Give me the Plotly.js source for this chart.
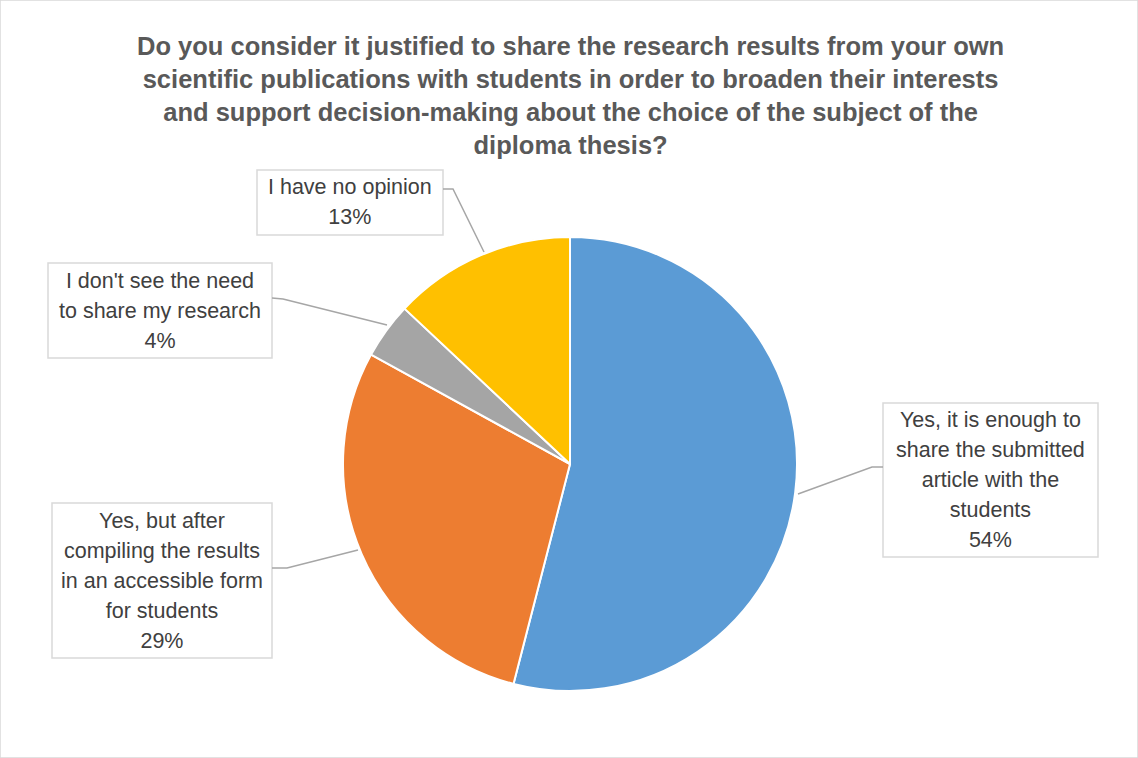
<!DOCTYPE html>
<html><head><meta charset="utf-8">
<script src="https://cdn.plot.ly/plotly-3.0.1.min.js"></script>
<style>html,body{margin:0;padding:0;background:#fff}</style>
</head><body>
<div id="chart" style="width:1138px;height:758px"></div>
<script>
// Data
const categories = [
  "Yes, it is enough to share the submitted article with the students",
  "Yes, but after compiling the results in an accessible form for students",
  "I don't see the need to share my research",
  "I have no opinion"
];
const values = [54, 29, 4, 13];
const labelLines = [
  ["Yes, it is enough to", "share the submitted", "article with the", "students"],
  ["Yes, but after", "compiling the results", "in an accessible form", "for students"],
  ["I don't see the need", "to share my research"],
  ["I have no opinion"]
];
const colors = ["#5B9BD5", "#ED7D31", "#A5A5A5", "#FFC000"];

const W = 1138, H = 758;
const px = (x) => x / W;
const py = (y) => 1 - y / H;

// label box layout (pixels): [left, top, right, bottom]
const boxes = [
  [883, 403, 1098, 557],
  [52, 503, 272, 658],
  [48, 263, 272, 358],
  [257, 170, 443, 235]
];
const leaders = [
  [[883,467],[872,467],[798,494]],
  [[272,568],[287,568],[358,550]],
  [[272,298],[283,299],[387,325]],
  [[443,189],[453,189],[484,252]]
];

const total = values.reduce((a,b)=>a+b,0);
const shapes = [];
const annotations = [];
const F = "'Liberation Sans Narrow', 'Arial Narrow', sans-serif";

boxes.forEach((b,i) => {
  shapes.push({type:'rect', xref:'paper', yref:'paper',
    x0:px(b[0]), x1:px(b[2]), y0:py(b[3]), y1:py(b[1]),
    line:{color:'#D9D9D9', width:1.5}, fillcolor:'#ffffff', layer:'above'});
  const pts = leaders[i];
  let path = 'M ' + pts.map(p => px(p[0]) + ',' + py(p[1])).join(' L ');
  shapes.push({type:'path', xref:'paper', yref:'paper', path:path,
    line:{color:'#A6A6A6', width:1.5}, layer:'above'});
  const pct = Math.round(values[i] / total * 100) + '%';
  const txt = labelLines[i].concat([pct])
    .map(s => '<span style="font-size:21.5px">' + s + '</span>').join('<br>');
  annotations.push({xref:'paper', yref:'paper',
    x:px((b[0]+b[2])/2), y:py((b[1]+b[3])/2), xanchor:'center', yanchor:'middle',
    text:txt, showarrow:false, align:'center',
    font:{family:F, size:23, color:'#404040'}});
});

const titleLines = [
  "Do you consider it justified to share the research results from your own",
  "scientific publications with students in order to broaden their interests",
  "and support decision-making about the choice of the subject of the",
  "diploma thesis?"
];
annotations.push({xref:'paper', yref:'paper', x:px(570), y:py(95), xanchor:'center', yanchor:'middle',
  text: titleLines.map(s => '<span style="font-size:25.5px"><b>' + s + '</b></span>').join('<br>'),
  showarrow:false, align:'center', font:{family:F, size:25.5, color:'#595959'}});

shapes.push({type:'rect', xref:'paper', yref:'paper', x0:0, x1:1, y0:0, y1:1,
  line:{color:'#D9D9D9', width:1.5}, layer:'below'});

const cx = 570, cy = 464, r = 227;
const trace = {
  type:'pie', values: values, labels: categories, sort:false, direction:'clockwise', rotation:0,
  marker:{colors: colors, line:{color:'#ffffff', width:2}},
  textinfo:'none', hoverinfo:'label+percent', showlegend:false,
  domain:{x:[px(cx-r), px(cx+r)], y:[py(cy+r), py(cy-r)]}
};

Plotly.newPlot('chart', [trace], {
  width: W, height: H, margin:{l:0,r:0,t:0,b:0},
  paper_bgcolor:'#ffffff', showlegend:false,
  shapes: shapes, annotations: annotations
}, {displayModeBar:false, staticPlot:true});
</script>
</body></html>
